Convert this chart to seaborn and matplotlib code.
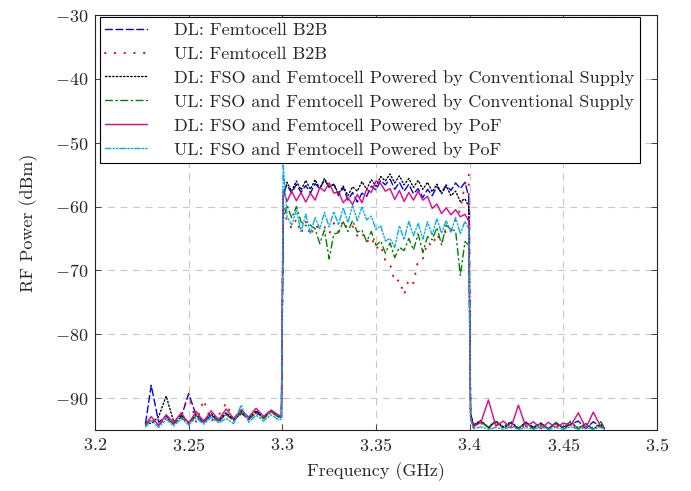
import matplotlib
matplotlib.use("Agg")
import matplotlib.pyplot as plt
import seaborn as sns
from matplotlib.ticker import FuncFormatter, MultipleLocator

# frequency samples (GHz): below band, in band, above band
freq_low = [3.227, 3.230, 3.234, 3.238, 3.242, 3.246, 3.250, 3.254, 3.258, 3.262,
            3.266, 3.270, 3.274, 3.278, 3.282, 3.286, 3.290, 3.294, 3.298, 3.2995]
freq_band = [3.3005, 3.3025, 3.305, 3.3075, 3.31, 3.3125, 3.315, 3.3175, 3.32, 3.3225,
             3.325, 3.3275, 3.33, 3.3325, 3.335, 3.3375, 3.34, 3.3425, 3.345, 3.3475,
             3.35, 3.3525, 3.355, 3.3575, 3.36, 3.3625, 3.365, 3.3675, 3.37, 3.3725,
             3.375, 3.3775, 3.38, 3.3825, 3.385, 3.3875, 3.39, 3.3925, 3.395, 3.3975, 3.3995]
freq_high = [3.4005, 3.402, 3.406, 3.410, 3.414, 3.418, 3.422, 3.426, 3.430, 3.434,
             3.438, 3.442, 3.446, 3.450, 3.454, 3.458, 3.462, 3.466, 3.470, 3.472]

# DL: Femtocell B2B
dl_b2b_low = [-93.9, -88.0, -93.8, -92.8, -94.0, -93.0, -89.3, -92.7, -93.9, -92.6,
              -93.7, -92.4, -93.6, -92.3, -93.4, -92.1, -93.2, -92.0, -92.9, -93.0]
dl_b2b_band = [-58.0, -56.6, -57.9, -56.5, -57.8, -56.7, -57.9, -56.4, -57.2, -55.8,
               -57.0, -56.5, -58.3, -57.0, -59.0, -57.8, -59.3, -57.9, -58.4, -56.8,
               -57.4, -55.9, -56.6, -55.7, -57.3, -56.2, -57.6, -56.5, -58.0, -57.2,
               -58.6, -57.3, -58.3, -56.9, -57.8, -56.6, -57.5, -56.3, -57.2, -56.2, -58.5]
dl_b2b_high = [-92.5, -94.3, -93.7, -94.6, -93.6, -94.7, -93.9, -94.8, -93.8, -94.6,
               -94.0, -94.8, -93.9, -94.7, -94.1, -93.6, -94.8, -93.7, -94.6, -94.7]

# UL: Femtocell B2B
ul_b2b_low = [-94.0, -93.3, -94.1, -93.0, -93.9, -92.9, -89.4, -93.8, -90.3, -93.6,
              -92.7, -90.8, -93.4, -92.5, -93.3, -92.3, -93.0, -92.1, -92.8, -92.9]
ul_b2b_band = [-60.0, -62.3, -63.4, -62.0, -64.2, -62.4, -64.6, -62.9, -63.6, -63.2,
               -64.3, -62.6, -64.0, -62.2, -63.6, -63.1, -64.6, -64.0, -65.6, -64.8,
               -66.6, -66.0, -68.5, -69.0, -71.8, -71.5, -73.8, -71.4, -72.0, -68.4,
               -68.2, -65.6, -66.2, -64.3, -65.8, -63.6, -63.9, -62.0, -60.5, -56.5, -55.0]
ul_b2b_high = [-92.8, -94.6, -93.9, -94.8, -94.0, -94.7, -94.1, -94.8, -94.2, -94.7,
               -94.3, -94.9, -94.1, -94.8, -94.2, -94.9, -94.3, -94.8, -94.4, -94.7]

# DL: FSO and Femtocell, conventional supply
dl_conv_low = [-93.8, -94.0, -92.9, -89.7, -93.7, -92.7, -93.8, -92.6, -93.5, -92.4,
               -93.4, -92.3, -93.3, -92.1, -93.1, -92.0, -92.9, -91.9, -92.7, -92.8]
dl_conv_band = [-58.5, -56.2, -57.6, -56.0, -57.4, -55.9, -57.3, -55.8, -57.2, -55.6,
                -56.9, -56.5, -58.0, -56.8, -58.3, -56.9, -57.6, -56.1, -57.3, -55.8,
                -56.8, -55.3, -56.0, -54.9, -56.3, -55.2, -56.6, -55.6, -57.0, -55.9,
                -57.3, -56.2, -57.7, -56.5, -58.0, -56.8, -58.3, -57.6, -59.2, -58.8, -60.0]
dl_conv_high = [-92.3, -94.2, -93.5, -94.6, -93.6, -94.5, -93.7, -94.7, -93.8, -94.6,
                -93.9, -94.8, -94.0, -94.6, -93.9, -94.7, -94.0, -94.8, -94.1, -94.8]

# UL: FSO and Femtocell, conventional supply
ul_conv_low = [-94.3, -93.4, -94.2, -93.1, -94.1, -93.0, -94.0, -92.8, -93.8, -92.7,
               -93.6, -92.6, -93.5, -92.3, -93.3, -92.4, -93.2, -92.2, -93.0, -93.1]
ul_conv_band = [-62.0, -59.8, -61.8, -60.0, -62.4, -63.0, -62.9, -63.5, -65.8, -63.7,
                -68.2, -64.3, -64.1, -62.4, -63.9, -62.2, -64.0, -63.7, -65.5, -63.9,
                -66.1, -65.4, -67.3, -65.7, -68.0, -66.4, -66.9, -65.0, -66.8, -64.3,
                -67.2, -64.7, -65.2, -63.3, -66.0, -62.9, -63.6, -63.8, -70.8, -65.5, -66.0]
ul_conv_high = [-92.6, -94.4, -93.5, -94.7, -93.7, -94.8, -93.8, -94.7, -94.0, -94.8,
                -93.9, -94.9, -93.8, -94.6, -93.6, -94.8, -94.0, -94.9, -93.7, -94.7]

# DL: FSO and Femtocell, PoF
dl_pof_low = [-94.1, -92.9, -94.3, -92.6, -93.9, -92.3, -94.0, -92.1, -93.7, -92.0,
              -93.4, -91.7, -93.2, -91.8, -93.0, -91.6, -92.9, -91.9, -92.7, -92.8]
dl_pof_band = [-57.5, -59.2, -57.6, -59.1, -57.8, -59.3, -57.9, -59.0, -57.0, -57.6,
               -56.3, -57.9, -57.7, -59.4, -58.6, -59.7, -58.1, -59.4, -57.3, -57.8,
               -56.0, -56.4, -57.6, -57.2, -58.9, -57.5, -59.2, -57.8, -59.0, -57.6,
               -59.0, -58.4, -60.3, -59.6, -61.1, -60.2, -61.3, -60.5, -61.6, -61.2, -62.3]
dl_pof_high = [-93.0, -94.5, -93.8, -90.3, -94.4, -93.6, -94.7, -91.1, -94.5, -93.7,
               -94.8, -93.8, -94.6, -93.9, -94.3, -92.3, -94.7, -92.2, -94.5, -94.7]

# UL: FSO and Femtocell, PoF
ul_pof_low = [-94.5, -93.5, -94.6, -93.3, -94.4, -93.2, -94.2, -93.1, -94.1, -93.0,
              -93.9, -93.2, -94.0, -91.1, -93.8, -92.7, -93.6, -92.6, -93.4, -93.3]
ul_pof_band = [-53.5, -61.5, -62.9, -60.6, -63.9, -61.2, -64.2, -61.7, -63.5, -60.9,
               -63.2, -60.8, -62.9, -60.2, -62.5, -59.8, -62.2, -60.1, -62.1, -61.5,
               -63.6, -63.0, -65.4, -65.0, -66.4, -63.0, -65.2, -62.3, -64.6, -62.6,
               -65.1, -62.4, -64.4, -61.9, -64.2, -62.2, -64.0, -61.7, -64.3, -62.3, -63.5]
ul_pof_high = [-93.4, -94.8, -94.5, -94.9, -94.6, -94.9, -94.5, -94.9, -94.6, -94.9,
               -94.5, -94.9, -94.6, -94.9, -94.5, -94.9, -94.6, -94.9, -94.5, -94.9]

freq = freq_low + freq_band + freq_high

# label, values, colour, dash pattern, line width
series = [
    ("DL: Femtocell B2B", dl_b2b_low + dl_b2b_band + dl_b2b_high,
     "#0000ff", (0, (5, 2.5)), 1.0),
    ("UL: Femtocell B2B", ul_b2b_low + ul_b2b_band + ul_b2b_high,
     "#ff0000", (0, (0.4, 6.6)), 1.4),
    ("DL: FSO and Femtocell Powered by Conventional Supply",
     dl_conv_low + dl_conv_band + dl_conv_high, "#000000", (0, (1, 1.6)), 1.0),
    ("UL: FSO and Femtocell Powered by Conventional Supply",
     ul_conv_low + ul_conv_band + ul_conv_high, "#008000", (0, (5, 2.5, 1, 2.5)), 1.0),
    ("DL: FSO and Femtocell Powered by PoF",
     dl_pof_low + dl_pof_band + dl_pof_high, "#ec008c", "-", 1.0),
    ("UL: FSO and Femtocell Powered by PoF",
     ul_pof_low + ul_pof_band + ul_pof_high, "#00aeef", (0, (4, 1.5, 1, 1.5, 1, 1.5)), 1.0),
]

sns.set_style("ticks")
plt.rcParams["font.family"] = "serif"
plt.rcParams["font.serif"] = ["cmr10"]
plt.rcParams["mathtext.fontset"] = "cm"
plt.rcParams["axes.formatter.use_mathtext"] = True
plt.rcParams["lines.scale_dashes"] = False

fig = plt.figure(figsize=(6.91, 4.91), dpi=100)
fig.subplots_adjust(left=95 / 691, right=657 / 691, bottom=61 / 491, top=476 / 491)
ax = fig.add_subplot(111)

for label, vals, color, ls, lw in series:
    assert len(vals) == len(freq)
    sns.lineplot(x=freq, y=vals, ax=ax, color=color, linestyle=ls, linewidth=lw,
                 dash_capstyle="round", label=label, errorbar=None, sort=False)

ax.set_xlim(3.2, 3.5)
ax.set_ylim(-95, -30)
ax.xaxis.set_major_locator(MultipleLocator(0.05))
ax.yaxis.set_major_locator(MultipleLocator(10))
ax.xaxis.set_major_formatter(FuncFormatter(lambda v, p: f"${v:.10g}$"))
ax.yaxis.set_major_formatter(FuncFormatter(lambda v, p: f"${v:.0f}$"))

ax.grid(True, color="#c8c8c8", linestyle=(0, (5, 4)), linewidth=0.8)
ax.set_axisbelow(True)
ax.tick_params(direction="in", top=True, right=True, length=4, width=0.7,
               labelsize=13, pad=5, color="#444444")
for s in ax.spines.values():
    s.set_linewidth(0.8)
    s.set_color("#222222")

ax.set_xlabel("Frequency (GHz)", fontsize=13, labelpad=6)
ax.set_ylabel("RF Power (dBm)", fontsize=13, labelpad=12)

leg = ax.legend(loc="upper left", bbox_to_anchor=(5 / 562, 1 - 2 / 415), borderaxespad=0,
                fontsize=13, frameon=True, fancybox=False, framealpha=1,
                edgecolor="black", handlelength=2.3, handletextpad=1.5,
                labelspacing=0.45, borderpad=0.3)
leg.get_frame().set_linewidth(0.8)

fig.savefig("out.png", dpi=100)
